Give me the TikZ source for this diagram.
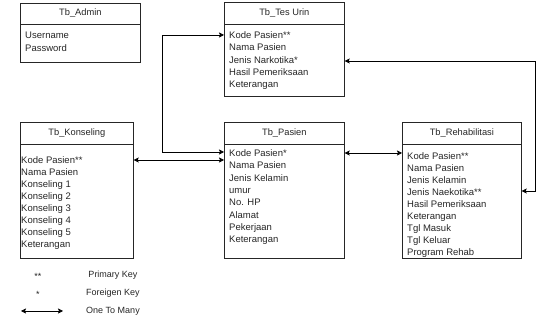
\documentclass[tikz,border=0pt]{standalone}
\usepackage{fontspec}
\setmainfont{Liberation Sans}
\usetikzlibrary{arrows.meta,calc}
\begin{document}
\begin{tikzpicture}[x=1pt,y=-1pt,
  tbl/.style={draw=black!85, line width=0.7pt, inner sep=0pt, anchor=north west},
  hdr/.style={draw=black!85, line width=0.7pt},
  ttl/.style={inner sep=0pt, font=\fontsize{9.3}{11}\selectfont, text=black!85},
  fld/.style={inner sep=0pt, anchor=north west, align=left, text=black!85},
  lgd/.style={inner sep=0pt, font=\fontsize{9}{11}\selectfont, text=black!85},
  tip/.tip={Stealth[length=5pt,width=5pt,inset=1pt]},
  rel/.style={draw=black, line width=0.7pt, tip-tip}
]
\useasboundingbox (0,0) rectangle (536,320);

% Tb_Admin
\node[tbl, minimum width=120pt, minimum height=59pt] (admin) at (20,3) {};
\draw[hdr] ($(admin.north west)+(0,21)$) -- ($(admin.north east)+(0,21)$);
\node[ttl] (adminT) at ($(admin.north)+(0,10.5)$) {Tb\_Admin};
\node[fld, font=\fontsize{9.5}{13}\selectfont] (adminF) at ($(admin.north west)+(5,28.5)$) {Username\\Password};

% Tb_Tes Urin
\node[tbl, minimum width=120pt, minimum height=94pt] (urin) at (224,2) {};
\draw[hdr] ($(urin.north west)+(0,22)$) -- ($(urin.north east)+(0,22)$);
\node[ttl] (urinT) at ($(urin.north)+(0,11)$) {Tb\_Tes Urin};
\node[fld, font=\fontsize{9.5}{12.25}\selectfont] (urinF) at ($(urin.north west)+(5,29.5)$)
  {Kode Pasien**\\Nama Pasien\\Jenis Narkotika*\\Hasil Pemeriksaan\\Keterangan};

% Tb_Konseling
\node[tbl, minimum width=113pt, minimum height=136pt] (kons) at (20,122) {};
\draw[hdr] ($(kons.north west)+(0,22)$) -- ($(kons.north east)+(0,22)$);
\node[ttl] (konsT) at ($(kons.north)+(0,11)$) {Tb\_Konseling};
\node[fld, font=\fontsize{9.5}{12}\selectfont] (konsF) at ($(kons.north west)+(1,34.5)$)
  {Kode Pasien**\\Nama Pasien\\Konseling 1\\Konseling 2\\Konseling 3\\Konseling 4\\Konseling 5\\Keterangan};

% Tb_Pasien
\node[tbl, minimum width=120pt, minimum height=136pt] (pasien) at (224,122) {};
\draw[hdr] ($(pasien.north west)+(0,22)$) -- ($(pasien.north east)+(0,22)$);
\node[ttl] (pasienT) at ($(pasien.north)+(0,11)$) {Tb\_Pasien};
\node[fld, font=\fontsize{9.5}{12.3}\selectfont] (pasienF) at ($(pasien.north west)+(5,27.5)$)
  {Kode Pasien*\\Nama Pasien\\Jenis Kelamin\\umur\\No. HP\\Alamat\\Pekerjaan\\Keterangan};

% Tb_Rehabilitasi
\node[tbl, minimum width=119pt, minimum height=136pt] (rehab) at (402,122) {};
\draw[hdr] ($(rehab.north west)+(0,22)$) -- ($(rehab.north east)+(0,22)$);
\node[ttl] (rehabT) at ($(rehab.north)+(0,11)$) {Tb\_Rehabilitasi};
\node[fld, font=\fontsize{9.5}{12}\selectfont] (rehabF) at ($(rehab.north west)+(5,30)$)
  {Kode Pasien**\\Nama Pasien\\Jenis Kelamin\\Jenis Naekotika**\\Hasil Pemeriksaan\\Keterangan\\Tgl Masuk\\Tgl Keluar\\Program Rehab};

% Connectors
\draw[rel] ($(urin.north west)+(0,33)$) -- ++(-62,0) |- ($(pasien.north west)+(0,30)$);
\draw[rel] ($(kons.north east)+(0,38)$) -- ($(pasien.north west)+(0,38)$);
\draw[rel] ($(pasien.north east)+(0,31)$) -- ($(rehab.north west)+(0,31)$);
\draw[rel] ($(urin.north east)+(0,59)$) -| ($(rehab.north east)+(14,69)$) -- ($(rehab.north east)+(0,69)$);

% Legend
\node[lgd] (pkS) at (38,276) {**};
\node[lgd] (pkT) at (113,275) {Primary Key};
\node[lgd] (fkS) at (38,294) {*};
\node[lgd] (fkT) at (113,293) {Foreigen Key};
\coordinate (lgA) at (21,311);
\coordinate (lgB) at (63,311);
\draw[rel] (lgA) -- (lgB);
\node[lgd] (omT) at (113,311) {One To Many};
\end{tikzpicture}
\end{document}
